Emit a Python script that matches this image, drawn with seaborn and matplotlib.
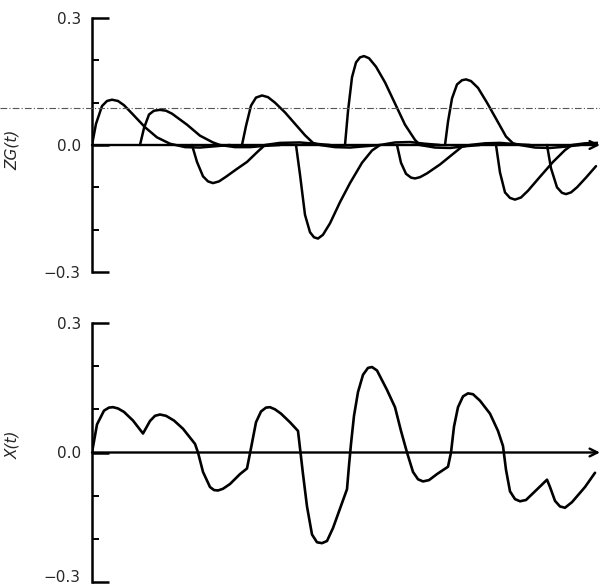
import matplotlib
matplotlib.use("Agg")
import matplotlib.pyplot as plt
import matplotlib.transforms as mtransforms
import pandas as pd
import seaborn as sns
from matplotlib.lines import Line2D

# time axis in arbitrary units (no x tick labels in the original)
T_END = 50.6

# individual weighted responses Z*G(t - t_i), top panel
p1_t = [0, 0.4, 1.0, 1.5, 2.0, 2.6, 3.2, 4.1, 5.3, 6.5, 7.8, 9.3, 10.8, 12.3, 13.8]
p1_v = [0, 0.05, 0.092, 0.104, 0.107, 0.104, 0.094, 0.072, 0.042, 0.018, 0.003, -0.005, -0.006, -0.003, 0.0]
p2_t = [4.8, 5.2, 5.7, 6.2, 6.8, 7.4, 8.0, 9.5, 10.8, 12.1, 12.8, 14.3, 15.8, 17.3, 18.8]
p2_v = [0, 0.04, 0.072, 0.081, 0.083, 0.081, 0.074, 0.048, 0.022, 0.006, 0, -0.005, -0.005, -0.002, 0]
p3_t = [10.0, 10.5, 11.1, 11.6, 12.1, 12.7, 13.4, 14.4, 15.5, 16.6, 17.3, 18.8, 20.8, 22.3, 23.8]
p3_v = [0, -0.04, -0.074, -0.086, -0.09, -0.086, -0.075, -0.058, -0.04, -0.015, 0, 0.005, 0.006, 0.003, 0]
p4_t = [15.0, 15.4, 15.9, 16.4, 17.0, 17.6, 18.3, 19.3, 20.3, 21.3, 22.1, 22.8, 24.3, 25.8, 27.3, 28.8]
p4_v = [0, 0.045, 0.093, 0.112, 0.117, 0.113, 0.1, 0.077, 0.05, 0.023, 0.005, 0, -0.005, -0.006, -0.003, 0]
p5_t = [20.4, 20.8, 21.3, 21.8, 22.2, 22.6, 23.1, 23.8, 24.8, 25.8, 27.0, 28.0, 28.8, 30.3, 31.8, 33.3, 34.8]
p5_v = [0, -0.07, -0.165, -0.206, -0.218, -0.221, -0.212, -0.185, -0.135, -0.09, -0.042, -0.013, 0, 0.006, 0.007, 0.003, 0]
p6_t = [25.3, 25.6, 26.0, 26.4, 26.8, 27.2, 27.7, 28.4, 29.3, 30.3, 31.3, 32.3, 32.8, 34.3, 35.8, 37.3, 38.8]
p6_v = [0, 0.08, 0.16, 0.195, 0.207, 0.21, 0.205, 0.185, 0.148, 0.098, 0.048, 0.012, 0, -0.006, -0.007, -0.003, 0]
p7_t = [30.5, 30.9, 31.4, 31.9, 32.3, 32.8, 33.5, 34.8, 36.0, 37.0, 37.8, 39.3, 40.8, 42.3, 43.8]
p7_v = [0, -0.042, -0.068, -0.077, -0.079, -0.076, -0.067, -0.046, -0.023, -0.004, 0, 0.004, 0.005, 0.002, 0]
p8_t = [35.3, 35.6, 36.0, 36.5, 37.0, 37.4, 37.9, 38.6, 39.5, 40.5, 41.4, 42.1, 42.8, 44.3, 45.8, 47.3, 48.8]
p8_v = [0, 0.055, 0.11, 0.143, 0.153, 0.155, 0.151, 0.135, 0.1, 0.058, 0.02, 0.004, 0, -0.006, -0.007, -0.004, 0]
p9_t = [40.4, 40.8, 41.3, 41.8, 42.3, 42.9, 43.6, 44.8, 46.1, 47.3, 48.0, 49.3, 50.6]
p9_v = [0, -0.065, -0.112, -0.125, -0.129, -0.124, -0.108, -0.075, -0.04, -0.012, 0, 0.004, 0.005]
p10_t = [45.5, 45.9, 46.5, 47.0, 47.4, 47.9, 48.5, 49.4, 50.4]
p10_v = [0, -0.055, -0.1, -0.113, -0.116, -0.112, -0.1, -0.077, -0.05]

# summed signal X(t), bottom panel
x_t = [0, 0.5, 1.2, 1.7, 2.1, 2.6, 3.2, 4.1, 5.1, 5.8, 6.3, 6.8, 7.4, 8.2, 9.1, 10.3,
       10.6, 11.1, 11.8, 12.2, 12.6, 13.1, 13.8, 14.8, 15.5, 15.9, 16.4, 16.9, 17.4,
       17.8, 18.3, 18.9, 19.8, 20.6, 21.1, 21.5, 22.0, 22.5, 23.0, 23.5, 24.1, 24.8,
       25.5, 25.7, 25.9, 26.2, 26.6, 27.1, 27.6, 28.0, 28.5, 29.5, 30.3, 30.9, 31.5,
       32.1, 32.6, 33.1, 33.7, 34.5, 35.6, 35.9, 36.2, 36.6, 37.1, 37.6, 38.1, 38.8,
       39.8, 40.6, 41.1, 41.4, 41.8, 42.3, 42.8, 43.4, 44.3, 45.5, 45.8, 46.3, 46.8,
       47.3, 48.0, 49.3, 50.3]
x_v = [0.0, 0.065, 0.097, 0.104, 0.105, 0.102, 0.094, 0.074, 0.044, 0.073, 0.085,
       0.088, 0.085, 0.074, 0.055, 0.02, 0.0, -0.045, -0.08, -0.087, -0.088, -0.084,
       -0.073, -0.05, -0.037, 0.01, 0.07, 0.095, 0.104, 0.105, 0.1, 0.09, 0.07, 0.05,
       -0.05, -0.125, -0.19, -0.208, -0.21, -0.205, -0.175, -0.13, -0.085, -0.03, 0.02,
       0.085, 0.14, 0.18, 0.196, 0.198, 0.19, 0.145, 0.105, 0.05, 0.0, -0.045, -0.062,
       -0.067, -0.064, -0.05, -0.033, 0.0, 0.06, 0.105, 0.13, 0.137, 0.135, 0.12, 0.09,
       0.05, 0.015, -0.04, -0.09, -0.108, -0.113, -0.11, -0.09, -0.063, -0.08, -0.112,
       -0.125, -0.128, -0.115, -0.08, -0.047]

pulses = [(p1_t, p1_v), (p2_t, p2_v), (p3_t, p3_v), (p4_t, p4_v), (p5_t, p5_v),
          (p6_t, p6_v), (p7_t, p7_v), (p8_t, p8_v), (p9_t, p9_v), (p10_t, p10_v)]
rows = []
for i, (ts, vs) in enumerate(pulses):
    for t, v in zip(ts, vs):
        rows.append({"pulse": i, "t": t, "v": v})
zg = pd.DataFrame(rows)
xs = pd.DataFrame({"t": x_t, "v": x_v})

sns.set_style("white")
plt.rcParams["font.family"] = ["DejaVu Sans"]

fig = plt.figure(figsize=(6.0, 5.86), dpi=100)
ax_top = fig.add_axes([92 / 600, 1 - 272 / 586, 506 / 600, 254 / 586])
ax_bot = fig.add_axes([92 / 600, 1 - 582 / 586, 506 / 600, 259 / 586])

sns.lineplot(data=zg, x="t", y="v", units="pulse", estimator=None, color="black",
             linewidth=1.8, ax=ax_top, legend=False)
sns.lineplot(data=xs, x="t", y="v", estimator=None, color="black", linewidth=1.9,
             ax=ax_bot, legend=False)

for ax, label, ly in [(ax_top, "ZG(t)", 0.48), (ax_bot, "X(t)", 0.53)]:
    ax.set_xlim(0, T_END)
    ax.set_ylim(-0.3, 0.3)
    for side in ["top", "right", "bottom"]:
        ax.spines[side].set_visible(False)
    ax.spines["left"].set_linewidth(1.8)
    ax.spines["left"].set_color("black")
    ax.set_xticks([])
    ax.set_yticks([-0.3, 0.0, 0.3])
    ax.set_yticklabels(["\u22120.3", "0.0", "0.3"])
    ax.set_yticks([-0.2, -0.1, 0.1, 0.2], minor=True)
    ax.tick_params(axis="y", which="major", direction="in", length=12, width=1.8,
                   labelsize=11, pad=8, color="black", left=True)
    ax.tick_params(axis="y", which="minor", direction="in", length=5, width=1.4,
                   color="black", left=True)
    ax.set_xlabel("")
    ax.set_ylabel(label, fontsize=11, fontstyle="italic")
    ax.yaxis.set_label_coords(-0.142, ly)
    ax.annotate("", xy=(T_END + 0.2, 0), xytext=(0, 0), xycoords="data",
                arrowprops=dict(arrowstyle="->", color="black", lw=1.7,
                                mutation_scale=14, shrinkA=0, shrinkB=0),
                annotation_clip=False)

# keep the bottom "-0.3" label inside the picture
lab = ax_bot.get_yticklabels()[0]
lab.set_transform(lab.get_transform() + mtransforms.ScaledTranslation(0, 4 / 72, fig.dpi_scale_trans))

# faint dashed line across the top panel (as printed in the scan)
fig.add_artist(Line2D([0, 1], [1 - 108 / 586, 1 - 108 / 586], transform=fig.transFigure,
                      color="#555555", lw=0.8, ls=(0, (6, 2, 1, 2))))

fig.savefig("out.png", dpi=100)
